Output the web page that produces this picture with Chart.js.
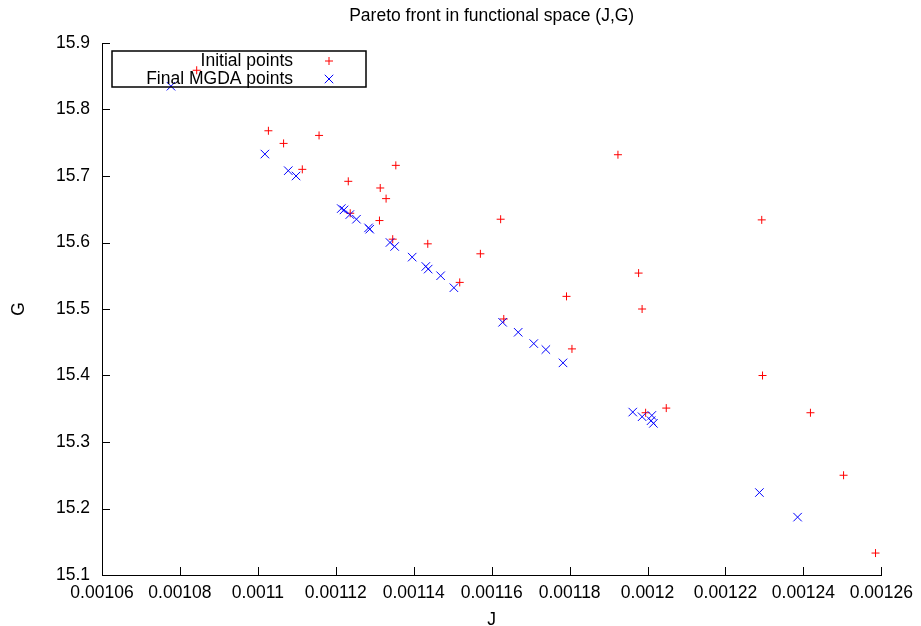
<!DOCTYPE html>
<html>
<head>
<meta charset="utf-8">
<script src="https://cdn.jsdelivr.net/npm/chart.js@4.4.1/dist/chart.umd.min.js"></script>
<style>
  html, body { margin: 0; padding: 0; background: #fff; }
  #wrap { width: 921px; height: 626px; position: relative; }
</style>
</head>
<body>
<div id="wrap"><canvas id="c" width="921" height="626"></canvas></div>
<script>
// ---- data ----
const initJ = [0.0010843, 0.0011027, 0.0011066, 0.0011157, 0.0011114, 0.0011354, 0.0011232, 0.0011314,
  0.0011329, 0.0011237, 0.0011312, 0.0011346, 0.0011436, 0.0011623, 0.0011571, 0.0011518, 0.0011792,
  0.0011924, 0.0011631, 0.0012293, 0.0011977, 0.0011986, 0.0011806, 0.0012295, 0.0012048, 0.0012418,
  0.0011995, 0.0012503, 0.0012585];
const initG = [15.859, 15.768, 15.749, 15.761, 15.710, 15.716, 15.692, 15.682,
  15.666, 15.644, 15.633, 15.605, 15.598, 15.635, 15.583, 15.540, 15.519,
  15.732, 15.485, 15.634, 15.554, 15.500, 15.440, 15.400, 15.351, 15.344,
  15.344, 15.250, 15.133];
const finalJ = [0.0010777, 0.0011018, 0.0011078, 0.0011098, 0.0011214, 0.0011221, 0.0011236, 0.0011253,
  0.0011284, 0.0011287, 0.0011339, 0.0011351, 0.0011396, 0.0011431, 0.0011437, 0.0011469, 0.0011503,
  0.0011628, 0.0011668, 0.0011708, 0.0011739, 0.0011783, 0.0011962, 0.0011986, 0.0012011, 0.0012009,
  0.0012015, 0.0012287, 0.0012385];
const finalG = [15.835, 15.733, 15.708, 15.700, 15.651, 15.649, 15.642, 15.635,
  15.622, 15.620, 15.600, 15.594, 15.578, 15.564, 15.560, 15.550, 15.532,
  15.480, 15.465, 15.448, 15.439, 15.419, 15.345, 15.338, 15.340, 15.332,
  15.328, 15.224, 15.187];
const xTicks = [0.00106, 0.00108, 0.00110, 0.00112, 0.00114, 0.00116, 0.00118, 0.00120, 0.00122, 0.00124, 0.00126];
const xTickLabels = ["0.00106", "0.00108", "0.0011", "0.00112", "0.00114", "0.00116", "0.00118", "0.0012", "0.00122", "0.00124", "0.00126"];
const yTicks = [15.1, 15.2, 15.3, 15.4, 15.5, 15.6, 15.7, 15.8, 15.9];
const yTickLabels = ["15.1", "15.2", "15.3", "15.4", "15.5", "15.6", "15.7", "15.8", "15.9"];
const seriesNames = ["Initial points", "Final MGDA points"];
const titleText = "Pareto front in functional space (J,G)";

// ---- chart ----
const FONT = "'Liberation Sans', Arial, Helvetica, sans-serif";
const FS = 17.5;
const toPts = (xs, ys) => xs.map((x, i) => ({ x: x, y: ys[i] }));

// plot title, centred over the plot area (gnuplot style)
const plotTitle = {
  id: 'plotTitle',
  afterDraw(chart) {
    const ctx = chart.ctx, a = chart.chartArea;
    ctx.save();
    ctx.font = FS + 'px ' + FONT;
    ctx.fillStyle = '#000';
    ctx.textAlign = 'center';
    ctx.textBaseline = 'middle';
    ctx.fillText(titleText, (a.left + a.right) / 2, 16);
    ctx.restore();
  }
};

const inwardTicks = {
  id: 'inwardTicks',
  beforeDatasetsDraw(chart) {
    const ctx = chart.ctx, a = chart.chartArea;
    const xs = chart.scales.x, ys = chart.scales.y;
    ctx.save();
    ctx.strokeStyle = '#000';
    ctx.lineWidth = 1;
    ctx.beginPath();
    xTicks.forEach(v => {
      const p = Math.round(xs.getPixelForValue(v)) + 0.5;
      ctx.moveTo(p, a.bottom); ctx.lineTo(p, a.bottom - 8);
    });
    yTicks.forEach(v => {
      const p = Math.round(ys.getPixelForValue(v)) + 0.5;
      ctx.moveTo(a.left, p); ctx.lineTo(a.left + 8, p);
    });
    ctx.stroke();
    ctx.restore();
  }
};

const keyBox = {
  id: 'keyBox',
  afterDatasetsDraw(chart) {
    const ctx = chart.ctx, a = chart.chartArea;
    const bx = a.left + 10, by = a.top + 8, bw = 254, bh = 36;
    ctx.save();
    ctx.strokeStyle = '#000';
    ctx.lineWidth = 1.5;
    ctx.strokeRect(bx, by, bw, bh);
    ctx.font = FS + 'px ' + FONT;
    ctx.fillStyle = '#000';
    ctx.textAlign = 'right';
    ctx.textBaseline = 'middle';
    chart.data.datasets.forEach((ds, i) => {
      const cy = by + 10 + i * 18;
      ctx.fillText(ds.label, bx + 181, cy);
      const cx = bx + 217;
      ctx.strokeStyle = ds.borderColor;
      ctx.lineWidth = 1;
      ctx.beginPath();
      if (ds.pointStyle === 'cross') {
        const r = ds.pointRadius;
        ctx.moveTo(cx - r, cy); ctx.lineTo(cx + r, cy);
        ctx.moveTo(cx, cy - r); ctx.lineTo(cx, cy + r);
      } else {
        const r = ds.pointRadius * Math.SQRT1_2;
        ctx.moveTo(cx - r, cy - r); ctx.lineTo(cx + r, cy + r);
        ctx.moveTo(cx - r, cy + r); ctx.lineTo(cx + r, cy - r);
      }
      ctx.stroke();
    });
    ctx.restore();
  }
};

new Chart(document.getElementById('c'), {
  type: 'scatter',
  data: {
    datasets: [
      {
        label: seriesNames[0],
        data: toPts(initJ, initG),
        pointStyle: 'cross',
        pointRadius: 4,
        pointHoverRadius: 4,
        borderColor: '#ff0000',
        backgroundColor: '#ff0000',
        borderWidth: 1,
        order: 2
      },
      {
        label: seriesNames[1],
        data: toPts(finalJ, finalG),
        pointStyle: 'crossRot',
        pointRadius: 6,
        pointHoverRadius: 6,
        borderColor: '#0000ff',
        backgroundColor: '#0000ff',
        borderWidth: 1,
        order: 1
      }
    ]
  },
  options: {
    responsive: false,
    animation: false,
    events: [],
    layout: { padding: { left: 0, right: 38, top: 43, bottom: 0 } },
    plugins: {
      legend: { display: false },
      tooltip: { enabled: false },
      title: { display: false }
    },
    scales: {
      x: {
        type: 'linear',
        min: xTicks[0],
        max: xTicks[xTicks.length - 1],
        afterBuildTicks: s => { s.ticks = xTicks.map(v => ({ value: v })); },
        afterFit: s => { s.height = 51; },
        grid: { display: false, drawTicks: false },
        border: { display: true, color: '#000', width: 1 },
        ticks: {
          color: '#000',
          padding: 8,
          maxRotation: 0,
          autoSkip: false,
          font: { family: FONT, size: FS },
          callback: (v, i) => xTickLabels[i]
        },
        title: {
          display: true,
          text: 'J',
          color: '#000',
          font: { family: FONT, size: FS, lineHeight: 0.8 },
          padding: { top: 0, bottom: -1 }
        }
      },
      y: {
        type: 'linear',
        min: yTicks[0],
        max: yTicks[yTicks.length - 1],
        afterBuildTicks: s => { s.ticks = yTicks.map(v => ({ value: v })); },
        afterFit: s => { s.width = 102; },
        grid: { display: false, drawTicks: false },
        border: { display: true, color: '#000', width: 1 },
        ticks: {
          color: '#000',
          padding: 12,
          autoSkip: false,
          font: { family: FONT, size: FS },
          callback: (v, i) => yTickLabels[i]
        },
        title: {
          display: true,
          text: 'G',
          color: '#000',
          font: { family: FONT, size: FS, lineHeight: 0.8 },
          padding: { top: 12, bottom: 0 }
        }
      }
    }
  },
  plugins: [inwardTicks, keyBox, plotTitle]
});
</script>
</body>
</html>
